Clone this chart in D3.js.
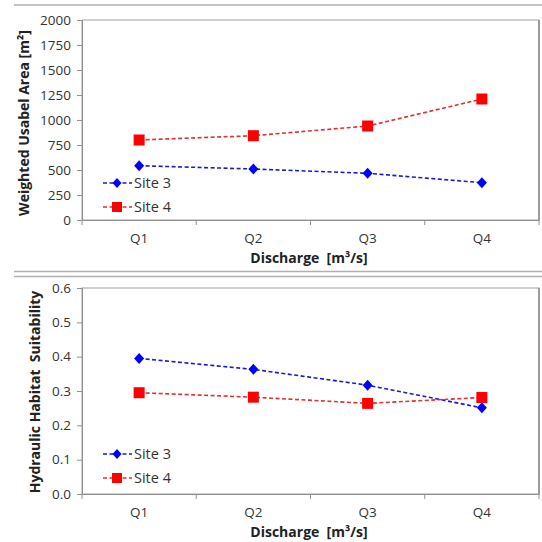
<!DOCTYPE html>
<html><head><meta charset="utf-8">
<script src="https://cdn.jsdelivr.net/npm/d3@7"></script>
<style>body{margin:0;background:#fff;} text{font-family:"Open Sans","Noto Sans",sans-serif;}</style>
</head><body>
<svg id="c" width="542" height="542"></svg>
<script>
const categories = ["Q1","Q2","Q3","Q4"];
const seriesNames = ["Site 3","Site 4"];
const wuaSite3 = [543, 510, 467, 373];
const wuaSite4 = [800, 843, 940, 1210];
const hhsSite3 = [0.395, 0.363, 0.317, 0.251];
const hhsSite4 = [0.295, 0.282, 0.264, 0.281];
const wuaTicks = [0,250,500,750,1000,1250,1500,1750,2000];
const hhsTicks = [0,0.1,0.2,0.3,0.4,0.5,0.6];
const xTitle = "Discharge  [m³/s]";

const svg = d3.select("#c");
svg.append("rect").attr("width",542).attr("height",542).attr("fill","#fff");
[[5],[271.5],[276.5]].forEach(([y])=>{
  svg.append("line").attr("x1",14).attr("x2",542).attr("y1",y).attr("y2",y).attr("stroke","#b0b0b0").attr("stroke-width",1.5);
});

function panel(cfg){
  const g = svg.append("g");
  const x = d3.scaleBand().domain(categories).range([82,539]);
  const y = d3.scaleLinear().domain(cfg.domain).range([cfg.bottom, cfg.top]);
  g.append("rect").attr("x",82).attr("y",cfg.top).attr("width",457).attr("height",cfg.bottom-cfg.top)
    .attr("fill","none").attr("stroke","#a0a0a0").attr("stroke-width",1);
  g.append("line").attr("x1",539).attr("x2",539).attr("y1",cfg.top).attr("y2",cfg.bottom).attr("stroke","#808080").attr("stroke-width",1.3);
  const ya = d3.axisLeft(y).tickValues(cfg.ticks).tickSize(5).tickPadding(6).tickFormat(cfg.fmt);
  const yg = g.append("g").attr("transform","translate(82,0)").call(ya);
  yg.select(".domain").attr("stroke","#909090");
  yg.selectAll(".tick line").attr("stroke","#909090");
  yg.selectAll("text").attr("font-size",13.5).attr("fill","#333").attr("font-family","'Open Sans',sans-serif");
  const xa = d3.axisBottom(x).tickSize(0).tickPadding(13);
  const xg = g.append("g").attr("transform",`translate(0,${cfg.bottom})`).call(xa);
  xg.select(".domain").attr("stroke","#909090");
  xg.selectAll("text").attr("font-size",13.5).attr("fill","#333").attr("font-family","'Open Sans',sans-serif");
  const bounds = categories.map(c=>x(c)).concat([x.range()[1]]);
  g.selectAll(".bt").data(bounds).enter().append("line")
    .attr("x1",d=>d).attr("x2",d=>d).attr("y1",cfg.bottom).attr("y2",cfg.bottom+5).attr("stroke","#909090");
  g.append("text").attr("x",309).attr("y",cfg.bottom+43).attr("text-anchor","middle").attr("xml:space","preserve")
    .style("white-space","pre")
    .attr("font-size",14).attr("font-weight","bold").attr("fill","#222").text(xTitle);
  g.append("text").attr("transform",`translate(${cfg.ytx},${cfg.ytc}) rotate(-90)`).attr("text-anchor","middle")
    .style("white-space","pre")
    .attr("font-size",14).attr("font-weight","bold").attr("fill","#222").text(cfg.ytitle);

  const cx = c => x(c) + x.bandwidth()/2;
  const line = d3.line().x((d,i)=>cx(categories[i])).y(d=>y(d));
  const styles = [
    {stroke:"#1a1ad0", fill:"#0000ff"},
    {stroke:"#e03030", fill:"#ff0000"}
  ];
  cfg.series.forEach((vals,si)=>{
    const st = styles[si];
    g.append("path").datum(vals).attr("d",line).attr("fill","none").attr("stroke",st.stroke)
      .attr("stroke-width",1.6).attr("stroke-dasharray","4,2.5");
    vals.forEach((v,i)=>{
      if(si===0){
        g.append("path").attr("d",`M0,-5.5L5,0L0,5.5L-5,0Z`).attr("transform",`translate(${cx(categories[i])},${y(v)})`).attr("fill",st.fill);
      } else {
        g.append("rect").attr("x",cx(categories[i])-5.5).attr("y",y(v)-5.5).attr("width",11).attr("height",11).attr("fill",st.fill);
      }
    });
    const ly = cfg.legendY[si];
    g.append("line").attr("x1",103).attr("x2",132).attr("y1",ly).attr("y2",ly).attr("stroke",st.stroke)
      .attr("stroke-width",1.6).attr("stroke-dasharray","4,2.5");
    if(si===0){
      g.append("path").attr("d",`M0,-5L4.5,0L0,5L-4.5,0Z`).attr("transform",`translate(117,${ly})`).attr("fill",st.fill);
    } else {
      g.append("rect").attr("x",112).attr("y",ly-5).attr("width",10).attr("height",10).attr("fill",st.fill);
    }
    g.append("text").attr("x",134).attr("y",ly+5).attr("font-size",14.5).attr("fill","#333").text(seriesNames[si]);
  });
}

panel({top:20,bottom:220,domain:[0,2000],ticks:wuaTicks,fmt:d3.format("d"),
  series:[wuaSite3,wuaSite4],legendY:[183,207],ytitle:"Weighted Usabel Area [m²]",ytx:29,ytc:123});
panel({top:288,bottom:494,domain:[0,0.6],ticks:hhsTicks,fmt:d3.format(".1f"),
  series:[hhsSite3,hhsSite4],legendY:[454,478],ytitle:"Hydraulic Habitat  Suitability",ytx:40,ytc:392});
</script>
</body></html>
